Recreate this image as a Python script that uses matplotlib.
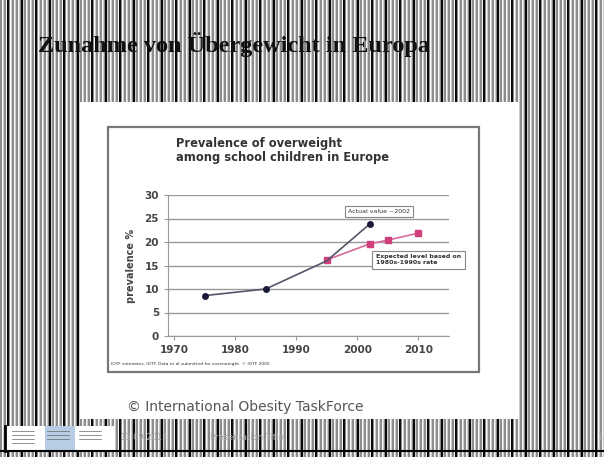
import numpy as np
import matplotlib.pyplot as plt
from matplotlib.patches import Rectangle

# data
years_actual = [1975, 1985, 1995, 2002]
prev_actual = [8.6, 10.0, 16.0, 23.8]
years_expected = [1995, 2002, 2005, 2010]
prev_expected = [16.2, 19.6, 20.4, 21.9]
xticks = [1970, 1980, 1990, 2000, 2010]
yticks = [0, 5, 10, 15, 20, 25, 30]

W, H = 604, 457
fig = plt.figure(figsize=(W / 100, H / 100), dpi=100)


def px_axes(x0, y0, x1, y1, **kw):
    # axes from pixel box (top-left origin)
    return fig.add_axes([x0 / W, 1 - y1 / H, (x1 - x0) / W, (y1 - y0) / H], **kw)


# striped slide background
bg = fig.add_axes([0, 0, 1, 1])
bg.set_axis_off()
cols = np.arange(W)
stripe = np.where(cols % 4 < 2, 0.55, np.where(cols % 4 == 2, 0.97, 0.8))
stripe[(cols % 14) == 7] = 0.02
stripe[(cols % 14) == 8] = 0.05
img = np.tile(stripe, (H, 1))
bg.imshow(img, cmap='gray', vmin=0, vmax=1, aspect='auto',
          extent=[0, W, H, 0], interpolation='nearest')
bg.set_xlim(0, W)
bg.set_ylim(H, 0)

# white picture area
bg.add_patch(Rectangle((80, 102), 439, 317, facecolor='white', edgecolor='none'))
# inner chart frame
bg.add_patch(Rectangle((108, 127), 371, 245, facecolor='white',
                       edgecolor='#777777', lw=1.6))

# slide title
bg.text(38, 45, 'Zunahme von Übergewicht in Europa', family='Liberation Serif',
        fontweight='bold', fontsize=17.5, color='#111111', va='center', ha='left')

# chart title
bg.text(176, 143, 'Prevalence of overweight', fontsize=8.3, fontweight='bold',
        color='#333333', va='center', ha='left')
bg.text(176, 158, 'among school children in Europe', fontsize=8.3, fontweight='bold',
        color='#333333', va='center', ha='left')

# source line + credit
bg.text(111, 364, 'IOTF estimates. IOTF. Data et al submitted for coverweight. © IOTF 2005',
        fontsize=3.2, color='#333333', va='center', ha='left')
bg.text(127, 407, '© International Obesity TaskForce', fontsize=10,
        color='#555555', va='center', ha='left')

# footer
bg.add_patch(Rectangle((5, 426), 110, 24, facecolor='white', edgecolor='none'))
bg.add_patch(Rectangle((45, 426), 30, 24, facecolor='#b8cce4', edgecolor='none'))
bg.plot([5, 5], [426, 451], color='black', lw=2)
bg.plot([0, W], [451, 451], color='black', lw=1.5)
for x0, lines in [(12, 4), (47, 3), (79, 3)]:
    for i in range(lines):
        bg.plot([x0, x0 + 22], [431 + i * 4, 431 + i * 4], color='#666666', lw=0.5)
bg.text(120, 438, '13.09.2011', fontsize=6, color='#aaaaaa', va='center')
bg.text(210, 438, 'Presentation Title', fontsize=6, color='#aaaaaa', va='center')
bg.text(597, 438, '1', fontsize=6, color='#aaaaaa', va='center')

# the chart itself
ax = px_axes(168, 195, 449, 336)
ax.set_xlim(1969, 2015)
ax.set_ylim(0, 30)
ax.set_facecolor('white')
ax.grid(axis='y', color='#999999', lw=1.0)
ax.set_axisbelow(True)
for s in ['top', 'right']:
    ax.spines[s].set_visible(False)
for s in ['left', 'bottom']:
    ax.spines[s].set_color('#999999')
ax.set_xticks(xticks)
ax.set_yticks(yticks)
ax.tick_params(colors='#999999', labelcolor='#444444', labelsize=7.5, length=3)
for lab in ax.get_xticklabels() + ax.get_yticklabels():
    lab.set_fontweight('bold')
ax.set_ylabel('prevalence %', fontsize=7, fontweight='bold', color='#444444', labelpad=6)

ax.plot(years_expected, prev_expected, color='#d86a9a', lw=1.2, marker='s',
        ms=4, mfc='#d0407c', mec='#d0407c', zorder=3)
ax.plot(years_actual, prev_actual, color='#55556a', lw=1.2, zorder=4)
ax.plot([years_actual[0], years_actual[1], years_actual[3]],
        [prev_actual[0], prev_actual[1], prev_actual[3]], ls='none',
        marker='o', ms=4, color='#1a1a3a', zorder=5)

ax.text(2003.5, 26.5, 'Actual value ~2002', fontsize=4.5, color='#333333',
        ha='center', va='center',
        bbox=dict(boxstyle='square,pad=0.5', fc='white', ec='#888888', lw=0.8))
ax.text(2003, 16.2, 'Expected level based on\n1980s-1990s rate', fontsize=4.5,
        fontweight='bold', color='#333333', ha='left', va='center', linespacing=1.3,
        bbox=dict(boxstyle='square,pad=0.6', fc='white', ec='#888888', lw=0.8))

fig.savefig('out.png', dpi=100)
